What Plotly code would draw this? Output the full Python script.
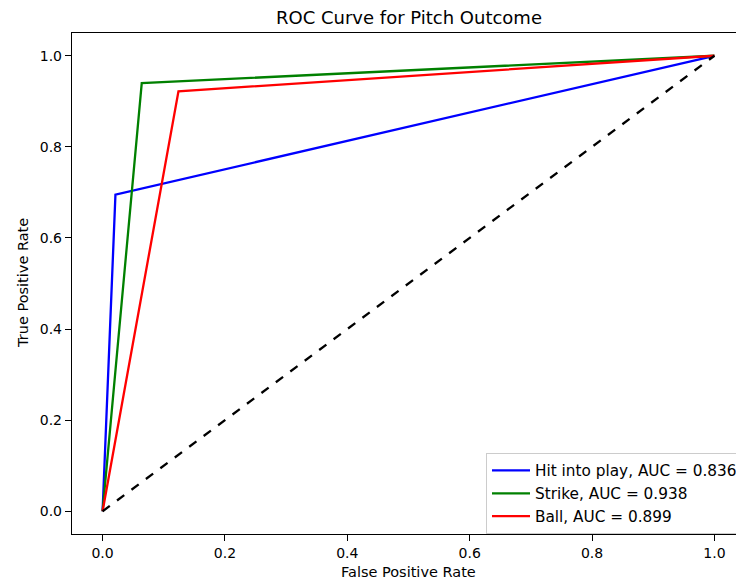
import plotly.graph_objects as go

hit_fpr = [0.0, 0.019, 0.021, 1.0]
hit_tpr = [0.0, 0.63, 0.695, 1.0]
strike_fpr = [0.0, 0.064, 1.0]
strike_tpr = [0.0, 0.94, 1.0]
ball_fpr = [0.0, 0.124, 1.0]
ball_tpr = [0.0, 0.922, 1.0]
diag = [0.0, 1.0]
names = ["Hit into play, AUC = 0.836", "Strike, AUC = 0.938", "Ball, AUC = 0.899"]
colors = ["#0000ff", "#008000", "#ff0000"]
tick_vals = [0.0, 0.2, 0.4, 0.6, 0.8, 1.0]

fig = go.Figure()
for xs, ys, n, c in [(hit_fpr, hit_tpr, names[0], colors[0]),
                     (strike_fpr, strike_tpr, names[1], colors[1]),
                     (ball_fpr, ball_tpr, names[2], colors[2])]:
    fig.add_trace(go.Scatter(x=xs, y=ys, mode="lines", name=n,
                             line=dict(color=c, width=2.3)))
fig.add_trace(go.Scatter(x=diag, y=diag, mode="lines", showlegend=False,
                         line=dict(color="black", width=2.3, dash="dash")))

font = "DejaVu Sans"
W, H = 745, 580
L, T, B = 72, 33, 46
PW, PH = W - L, H - T - B
fig.update_layout(
    width=W, height=H,
    margin=dict(l=L, r=0, t=T, b=B, autoexpand=False),
    paper_bgcolor="white", plot_bgcolor="white",
    font=dict(family=font, size=14, color="black"),
    title=dict(text="ROC Curve for Pitch Outcome", x=(409 - L) / PW, xanchor="center",
               xref="paper",
               y=1 - 18 / H, yanchor="middle", font=dict(size=18)),
    xaxis=dict(range=[-0.05, 1.05], tickvals=tick_vals, tickformat=".1f",
               showgrid=False, zeroline=False, showline=True, linecolor="black",
               linewidth=1.4, mirror=True, ticks="outside", ticklen=6,
               tickcolor="black", automargin=False),
    yaxis=dict(range=[-0.05, 1.05], tickvals=tick_vals, tickformat=".1f",
               showgrid=False, zeroline=False, showline=True, linecolor="black",
               linewidth=1.4, ticks="outside", ticklen=6, tickcolor="black",
               automargin=False),
    legend=dict(x=(486 - L) / PW, xanchor="left", y=(H - B - 453) / PH,
                yanchor="top", bgcolor="white", bordercolor="#cccccc", borderwidth=1,
                font=dict(size=15.3), tracegroupgap=0, itemwidth=38),
    showlegend=True,
    annotations=[
        dict(text="False Positive Rate", xref="paper", yref="paper",
             x=(408 - L) / PW, y=-(572 - (H - B)) / PH, xanchor="center", yanchor="middle",
             showarrow=False, font=dict(size=14.5)),
        dict(text="True Positive Rate", xref="paper", yref="paper",
             x=-(L - 23) / PW, y=(H - B - 283) / PH, xanchor="center", yanchor="middle",
             textangle=-90, showarrow=False, font=dict(size=14.5)),
    ],
)
fig.write_html("out.html", config={"displayModeBar": False},
               post_script="document.body.style.margin='0';document.body.style.overflow='hidden';document.documentElement.style.overflow='hidden';")
